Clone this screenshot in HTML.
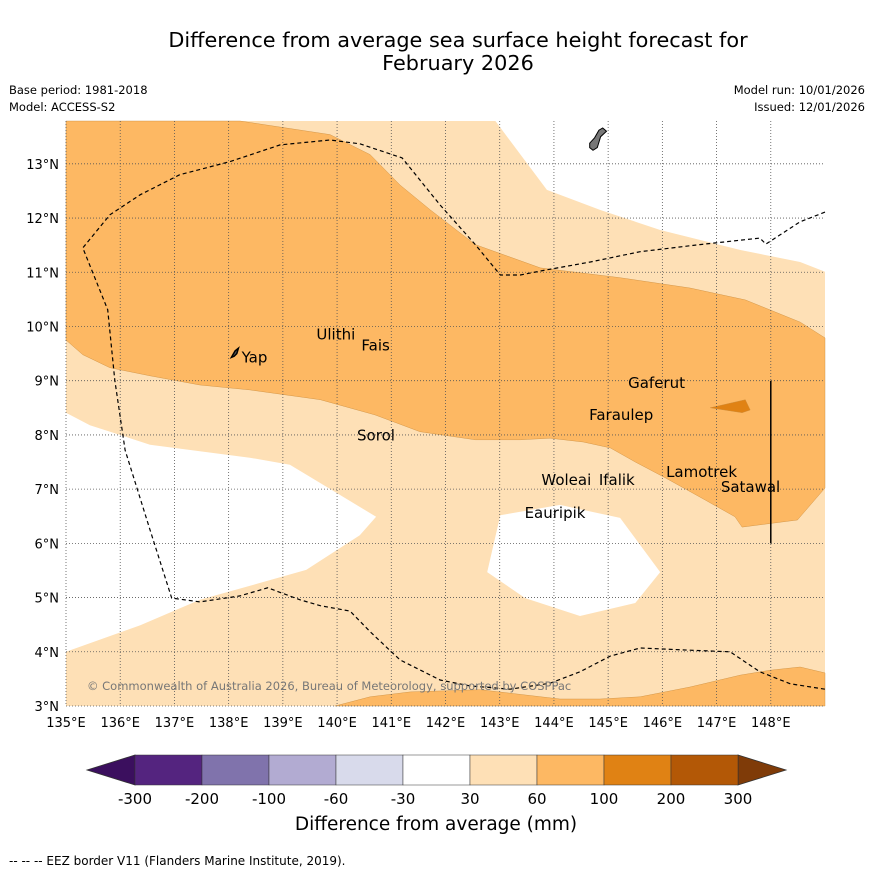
<!DOCTYPE html>
<html><head><meta charset="utf-8"><style>
body{margin:0;background:#fff;font-family:"Liberation Sans","DejaVu Sans",sans-serif}
svg text{font-family:"DejaVu Sans","Liberation Sans",sans-serif}
</style></head><body>
<svg id="chart" width="873" height="873" viewBox="0 0 873 873">
<text x="458" y="47" text-anchor="middle" font-size="20.8">Difference from average sea surface height forecast for</text>
<text x="458" y="70" text-anchor="middle" font-size="20.8">February 2026</text>
<text x="9" y="94" font-size="11.5">Base period: 1981-2018</text>
<text x="9" y="111" font-size="11.5">Model: ACCESS-S2</text>
<text x="865" y="94" font-size="11.5" text-anchor="end">Model run: 10/01/2026</text>
<text x="865" y="111" font-size="11.5" text-anchor="end">Issued: 12/01/2026</text>
<g id="map"></g>
<g id="cbar"></g>
<text x="436" y="830" text-anchor="middle" font-size="18.5">Difference from average (mm)</text>
<text x="9" y="865" font-size="12">--  --  -- EEZ border V11 (Flanders Marine Institute, 2019).</text>
</svg>
<script>
const lonTicks=[135,136,137,138,139,140,141,142,143,144,145,146,147,148];
const latTicks=[3,4,5,6,7,8,9,10,11,12,13];
const whiteTopRight=[[142.92,13.79],[143.87,12.52],[144.85,12.15],[145.96,11.78],[147.44,11.41],[148.54,11.19],[149,11.01],[149,13.79]];
const whiteLeft=[[135,8.41],[135.44,8.18],[136.55,7.82],[138.39,7.58],[139.13,7.45],[140.06,6.89],[140.72,6.49],[140.42,6.15],[139.43,5.51],[138.58,5.27],[137.47,4.96],[136.37,4.49],[135,4.0]];
const whiteHole=[[143.01,6.52],[144.11,6.71],[145.22,6.47],[145.96,5.47],[145.50,4.90],[144.48,4.66],[143.47,4.99],[142.77,5.47]];
const band60=[[135,13.79],[138.21,13.79],[139.87,13.54],[140.61,13.17],[141.16,12.61],[141.72,12.15],[142.55,11.51],[143.75,11.08],[145.22,10.90],[146.51,10.71],[147.53,10.49],[148.54,10.08],[149,9.79],[149,7.02],[148.49,6.43],[147.47,6.30],[147.34,6.49],[146.79,6.80],[146.05,7.21],[145.50,7.50],[145.04,7.76],[144.54,7.87],[143.93,7.94],[143.38,7.91],[142.55,7.91],[141.53,8.06],[140.70,8.37],[139.69,8.65],[138.39,8.83],[137.47,8.92],[136.55,9.09],[135.81,9.24],[135.31,9.48],[135,9.75]];
const bandBottom=[[139.96,3],[140.61,3.17],[141.35,3.26],[142.64,3.30],[144.11,3.13],[144.85,3.13],[145.59,3.17],[146.51,3.35],[147.44,3.57],[147.99,3.66],[148.54,3.72],[149,3.61],[149,3]];
const band100=[[146.88,8.50],[147.53,8.65],[147.62,8.46],[147.47,8.41]];
const eez=[[149,12.11],[148.54,11.93],[148.17,11.69],[147.91,11.52],[147.80,11.63],[146.69,11.51],[145.59,11.38],[144.67,11.19],[143.84,11.04],[143.38,10.95],[143.01,10.95],[142.55,11.51],[141.90,12.24],[141.20,13.11],[140.42,13.37],[139.87,13.44],[138.95,13.35],[138.02,13.04],[137.10,12.80],[136.37,12.43],[135.81,12.06],[135.31,11.45],[135.77,10.31],[135.90,9.01],[136.09,7.72],[136.55,6.25],[136.95,4.99],[137.47,4.92],[138.21,5.03],[138.72,5.18],[139.31,4.96],[139.69,4.85],[140.24,4.75],[140.61,4.37],[141.16,3.85],[141.90,3.48],[142.45,3.37],[143.19,3.31],[143.93,3.42],[144.48,3.63],[145.04,3.92],[145.59,4.07],[146.51,4.03],[147.25,4.0],[147.80,3.63],[148.36,3.41],[149,3.31]];
const guam=[[144.66,13.38],[144.75,13.48],[144.83,13.62],[144.9,13.66],[144.97,13.6],[144.86,13.5],[144.8,13.3],[144.72,13.25],[144.66,13.3]];
const yap=[[138.05,9.43],[138.12,9.55],[138.18,9.60],[138.15,9.50],[138.1,9.45]];
const stationNames=["Yap","Ulithi","Fais","Sorol","Gaferut","Faraulep","Woleai","Ifalik","Lamotrek","Satawal","Eauripik"];
const stationLon=[138.22,139.6,140.43,140.35,145.35,144.63,143.75,144.81,146.05,147.06,143.44];
const stationLat=[9.5,9.93,9.72,8.06,9.03,8.44,7.24,7.24,7.39,7.11,6.63];
const cbarLabels=["-300","-200","-100","-60","-30","30","60","100","200","300"];
const cbarColors=["#54247f","#8073ac","#b2abd2","#d8daeb","#ffffff","#fee0b6","#fdb863","#e08214","#b35806"];
const cbarEnds=["#3b0f5e","#7f3b08"];

const X0=66,Y0=121,W=759,H=585,LON0=135,LON1=149,LAT1=13.79,LAT0=3;
const xs=l=>X0+(l-LON0)/(LON1-LON0)*W;
const ys=l=>Y0+(LAT1-l)/(LAT1-LAT0)*H;
const NS="http://www.w3.org/2000/svg";
const map=document.getElementById('map');
function mk(tag,attrs,parent){const e=document.createElementNS(NS,tag);for(const k in attrs)e.setAttribute(k,attrs[k]);parent.appendChild(e);return e;}
const pts=a=>a.map(p=>xs(p[0]).toFixed(1)+','+ys(p[1]).toFixed(1)).join(' ');
let e=mk('rect',{x:X0,y:Y0,width:W,height:H,fill:'#fee0b6'},map);


[[whiteTopRight,'#fff','white-region-north'],[whiteLeft,'#fff','white-region-west'],[whiteHole,'#fff','white-region-central'],[band60,'#fdb863','band-60-100'],[bandBottom,'#fdb863','band-60-100-south'],[band100,'#e08214','band-100-200']].forEach(d=>{
 const p=mk('polygon',{points:pts(d[0]),fill:d[1],stroke:d[1]==='#fff'?'none':'#c98a3a','stroke-width':d[1]==='#fff'?0:0.4},map);
 
 
});
lonTicks.forEach(l=>{const g=mk('line',{x1:xs(l),x2:xs(l),y1:Y0,y2:Y0+H,stroke:'#555','stroke-width':0.8,'stroke-dasharray':'1,2'},map);
 
 
 const t=mk('text',{x:xs(l),y:727,'text-anchor':'middle','font-size':13},map);t.textContent=l+'°E';
 
 });
latTicks.forEach(l=>{const g=mk('line',{x1:X0,x2:X0+W,y1:ys(l),y2:ys(l),stroke:'#555','stroke-width':0.8,'stroke-dasharray':'1,2'},map);
 
 
 const t=mk('text',{x:59,y:ys(l)+5,'text-anchor':'end','font-size':13},map);t.textContent=l+'°N';
 
 });
e=mk('polyline',{points:pts(eez),fill:'none',stroke:'#000','stroke-width':1.2,'stroke-dasharray':'4,3'},map);


e=mk('polygon',{points:pts(guam),fill:'#777',stroke:'#000','stroke-width':1},map);


e=mk('polygon',{points:pts(yap),fill:'#555',stroke:'#000','stroke-width':1.5},map);


e=mk('line',{x1:xs(148),x2:xs(148),y1:ys(9),y2:ys(6),stroke:'#000','stroke-width':1.5},map);


stationNames.forEach((n,i)=>{const t=mk('text',{x:xs(stationLon[i])+1,y:ys(stationLat[i])+9,'font-size':15},map);t.textContent=n;
 
 });
e=mk('text',{x:87,y:690,'font-size':11.5,fill:'#777'},map);e.textContent='© Commonwealth of Australia 2026, Bureau of Meteorology, supported by COSPPac';


// colorbar
const cb=document.getElementById('cbar');const CX=135,CW=67,CY=755,CH=30;
e=mk('polygon',{points:`${CX},${CY} ${CX-48},${CY+CH/2} ${CX},${CY+CH}`,fill:cbarEnds[0],stroke:'#333','stroke-width':0.8},cb);


const cxEnd=CX+CW*cbarColors.length;
e=mk('polygon',{points:`${cxEnd},${CY} ${cxEnd+48},${CY+CH/2} ${cxEnd},${CY+CH}`,fill:cbarEnds[1],stroke:'#333','stroke-width':0.8},cb);


cbarColors.forEach((c,i)=>{const r=mk('rect',{x:CX+CW*i,y:CY,width:CW,height:CH,fill:c,stroke:'#333','stroke-width':0.5},cb);
 
 });
cbarLabels.forEach((l,i)=>{const t=mk('text',{x:CX+CW*i,y:804,'text-anchor':'middle','font-size':15},cb);t.textContent=l;
 
 });
</script>
</body></html>
